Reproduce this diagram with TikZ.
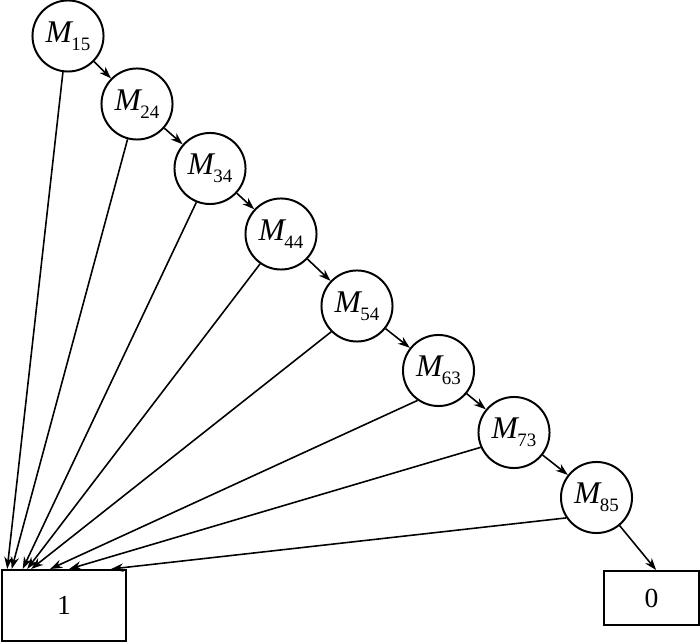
\documentclass[tikz,border=0pt]{standalone}
\usepackage{fontspec}
\setmainfont{Liberation Serif}
\usepackage{tikz}
\usetikzlibrary{arrows.meta,calc}
\newcommand{\Mlab}[1]{\textit{M}\kern-0.8pt\raisebox{-3pt}{\fontsize{7.2}{8}\selectfont #1}}

\begin{document}
\begin{tikzpicture}[x=0.38pt,y=-0.38pt,
    mnode/.style={draw, circle, line width=0.75pt, minimum size=27pt, inner sep=0pt,
      font=\fontsize{12}{14}\selectfont},
    outbox/.style={draw, rectangle, line width=0.75pt, inner sep=0pt,
      font=\fontsize{10.5}{12}\selectfont},
    arr/.style={-{Stealth[length=4.6pt,width=3.2pt]}, line width=0.6pt}]

  \useasboundingbox (0,0) rectangle (700,642);

  % Decision nodes along the diagonal
  \foreach \n/\x/\y in {15/68/36, 24/137/104, 34/210/168.5, 44/281/234,
                        54/357/306, 63/438.5/370.5, 73/514/432.5, 85/596.5/497.5} {
    \node[mnode] (m\n) at (\x,\y) {\Mlab{\n}};
  }

  % Terminal boxes
  \node[outbox, minimum width=47pt, minimum height=27pt] (one) at (64,605.5) {1};
  \node[outbox, minimum width=36pt, minimum height=20.5pt] (zero) at (651.5,598) {0};

  % Chain of arrows between nodes
  \foreach \a/\b in {15/24, 24/34, 34/44, 44/54, 54/63, 63/73, 73/85} {
    \draw[arr] (m\a) -- (m\b);
  }
  \draw[arr] (m85) -- ($(zero.north west)+(53,0)$);

  % Arrows down into box 1
  \foreach \n/\ang/\off in {15/262/6, 24/255.6/10.5, 34/248.5/21.5, 44/235/26,
                            54/225/30, 63/235/49, 73/204.5/68, 85/214.7/110} {
    \coordinate (e\n) at ($(one.north west)+(\off,0)$);
    \draw[arr] (m\n.\ang) -- (e\n);
  }

\end{tikzpicture}
\end{document}
